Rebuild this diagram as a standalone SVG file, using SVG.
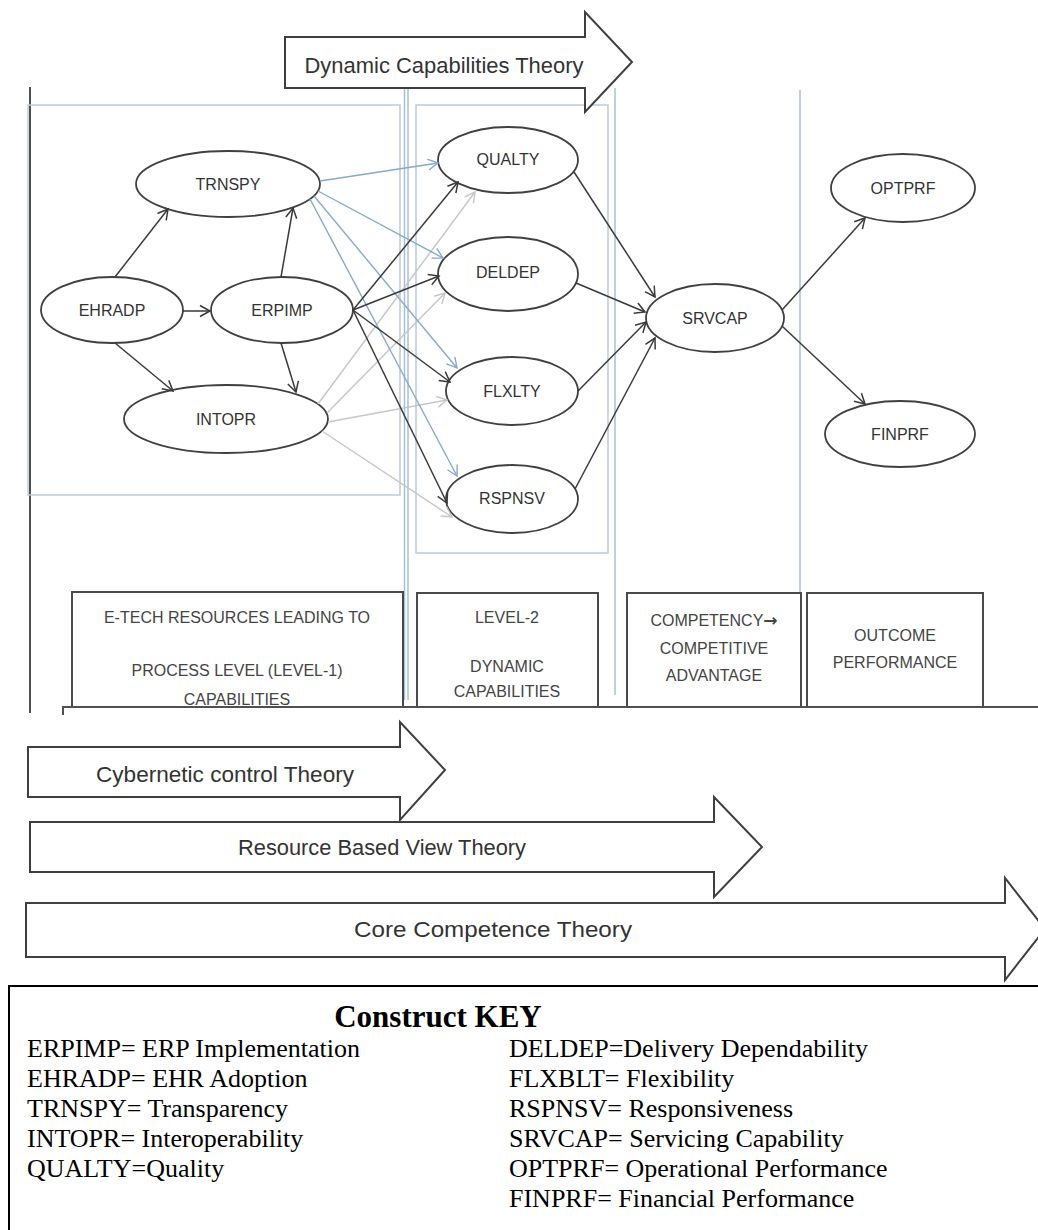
<svg xmlns="http://www.w3.org/2000/svg" width="1038" height="1230" viewBox="0 0 1038 1230">
  <style>
    .node ellipse { fill: #fff; stroke: #404040; stroke-width: 1.8; }
    .node text { font-family: "Liberation Sans", Arial, sans-serif; font-size: 16px; fill: #333; text-anchor: middle; }
    .c-dark { fill: none; stroke: #3a3a3a; stroke-width: 1.5; marker-end: url(#ah-dark); }
    .c-blue { fill: none; stroke: #86a9cc; stroke-width: 1.4; marker-end: url(#ah-blue); }
    .c-gray { fill: none; stroke: #c6c6c6; stroke-width: 1.4; marker-end: url(#ah-gray); }
    .guide { fill: none; stroke: #a9bfd6; stroke-width: 1.5; }
    .frame { fill: none; stroke: #bccad8; stroke-width: 1.5; }
    .axis { fill: none; stroke: #505050; stroke-width: 2; }
    .stage rect { fill: #fff; stroke: #4a4a4a; stroke-width: 2; }
    .stage text { font-family: "Liberation Sans", Arial, sans-serif; font-size: 16px; fill: #444; text-anchor: middle; }
    .stage .arrow { font-family: "DejaVu Sans", sans-serif; font-weight: bold; font-size: 17px; }
    .band polygon { fill: #fff; stroke: #3f3f3f; stroke-width: 2; stroke-linejoin: miter; }
    .band text { font-family: "Liberation Sans", Arial, sans-serif; font-size: 22px; fill: #333; text-anchor: middle; }
    .key rect { fill: #fff; stroke: #000; stroke-width: 2; }
    .key text { font-family: "Liberation Serif", "Times New Roman", serif; font-size: 26px; fill: #000; }
    .key .title { font-weight: bold; font-size: 31px; text-anchor: middle; }
  </style>
  <defs>
    <marker id="ah-dark" markerUnits="userSpaceOnUse" markerWidth="14" markerHeight="14" viewBox="-12 -7 14 14" refX="0" refY="0" orient="auto">
      <path d="M-10,-5.5 L0,0 L-10,5.5" fill="none" stroke="#3a3a3a" stroke-width="1.5"/>
    </marker>
    <marker id="ah-blue" markerUnits="userSpaceOnUse" markerWidth="14" markerHeight="14" viewBox="-12 -7 14 14" refX="0" refY="0" orient="auto">
      <path d="M-10,-5.5 L0,0 L-10,5.5" fill="none" stroke="#86a9cc" stroke-width="1.4"/>
    </marker>
    <marker id="ah-gray" markerUnits="userSpaceOnUse" markerWidth="14" markerHeight="14" viewBox="-12 -7 14 14" refX="0" refY="0" orient="auto">
      <path d="M-10,-5.5 L0,0 L-10,5.5" fill="none" stroke="#c6c6c6" stroke-width="1.4"/>
    </marker>
  </defs>

  <rect width="1038" height="1230" fill="#fff"/>

  <!-- column guides and grouping frames -->
  <g id="guides">
    <line class="axis" x1="30" y1="87" x2="30" y2="713"/>
    <rect class="frame" x="28" y="105" width="372" height="390"/>
    <rect class="frame" x="416" y="105" width="192" height="448"/>
    <line class="guide" x1="404.5" y1="88" x2="404.5" y2="700"/>
    <line class="guide" x1="408" y1="88" x2="408" y2="700"/>
    <line class="guide" x1="615" y1="88" x2="615" y2="695"/>
    <line class="guide" x1="800" y1="90" x2="800" y2="593"/>
  </g>

  <!-- top theory band -->
  <g id="band-dynamic" class="band">
    <polygon points="285,37 585,37 585,12 632,62 585,112 585,88 285,88"/>
    <text x="444" y="73" textLength="279" lengthAdjust="spacingAndGlyphs">Dynamic Capabilities Theory</text>
  </g>

  <!-- stage labels -->
  <g id="stage-1" class="stage">
    <rect x="72" y="592" width="331" height="115"/>
    <text x="237" y="623">E-TECH RESOURCES LEADING TO</text>
    <text x="237" y="676">PROCESS LEVEL (LEVEL-1)</text>
    <text x="237" y="705">CAPABILITIES</text>
  </g>
  <g id="stage-2" class="stage">
    <rect x="417" y="593" width="181" height="114"/>
    <text x="507" y="623">LEVEL-2</text>
    <text x="507" y="672">DYNAMIC</text>
    <text x="507" y="697">CAPABILITIES</text>
  </g>
  <g id="stage-3" class="stage">
    <rect x="627" y="593" width="174" height="114"/>
    <text x="714" y="626">COMPETENCY<tspan class="arrow">→</tspan></text>
    <text x="714" y="654">COMPETITIVE</text>
    <text x="714" y="681">ADVANTAGE</text>
  </g>
  <g id="stage-4" class="stage">
    <rect x="807" y="593" width="176" height="114"/>
    <text x="895" y="641">OUTCOME</text>
    <text x="895" y="668">PERFORMANCE</text>
  </g>
  <path class="axis" d="M63,715 V707 H1040"/>

  <!-- lower theory bands -->
  <g id="band-cybernetic" class="band">
    <polygon points="28,747 400,747 400,722 445,770 400,820 400,797 28,797"/>
    <text x="225" y="782" textLength="258" lengthAdjust="spacingAndGlyphs">Cybernetic control Theory</text>
  </g>
  <g id="band-rbv" class="band">
    <polygon points="30,822 714,822 714,797 762,847 714,897 714,872 30,872"/>
    <text x="382" y="855" textLength="288" lengthAdjust="spacingAndGlyphs">Resource Based View Theory</text>
  </g>
  <g id="band-core" class="band">
    <polygon points="26,903 1005,903 1005,878 1045,929 1005,980 1005,957 26,957"/>
    <text x="493" y="937" textLength="278" lengthAdjust="spacingAndGlyphs">Core Competence Theory</text>
  </g>

  <!-- construct nodes -->
  <g id="TRNSPY" class="node"><ellipse cx="228" cy="184" rx="92" ry="33"/><text x="228" y="190">TRNSPY</text></g>
  <g id="EHRADP" class="node"><ellipse cx="112" cy="310" rx="71" ry="33"/><text x="112" y="316">EHRADP</text></g>
  <g id="ERPIMP" class="node"><ellipse cx="282" cy="310" rx="71" ry="33"/><text x="282" y="316">ERPIMP</text></g>
  <g id="INTOPR" class="node"><ellipse cx="226" cy="419" rx="102" ry="34"/><text x="226" y="425">INTOPR</text></g>
  <g id="QUALTY" class="node"><ellipse cx="508" cy="160" rx="70" ry="33"/><text x="508" y="165">QUALTY</text></g>
  <g id="DELDEP" class="node"><ellipse cx="508" cy="274" rx="70" ry="37"/><text x="508" y="278">DELDEP</text></g>
  <g id="FLXLTY" class="node"><ellipse cx="512" cy="391" rx="66" ry="34"/><text x="512" y="397">FLXLTY</text></g>
  <g id="RSPNSV" class="node"><ellipse cx="512" cy="499" rx="66" ry="34"/><text x="512" y="504">RSPNSV</text></g>
  <g id="SRVCAP" class="node"><ellipse cx="715" cy="318" rx="69" ry="34"/><text x="715" y="324">SRVCAP</text></g>
  <g id="OPTPRF" class="node"><ellipse cx="903" cy="188" rx="72" ry="34"/><text x="903" y="194">OPTPRF</text></g>
  <g id="FINPRF" class="node"><ellipse cx="900" cy="434" rx="75" ry="33"/><text x="900" y="440">FINPRF</text></g>

  <!-- paths between constructs -->
  <g id="connectors">
    <path class="c-gray" d="M318,404 L475,192"/>
    <path class="c-gray" d="M327,413 L445,293"/>
    <path class="c-gray" d="M328,422 L447,400"/>
    <path class="c-gray" d="M322,431 L452,517"/>

    <path class="c-blue" d="M320,181 L438,163"/>
    <path class="c-blue" d="M318,191 L443,258"/>
    <path class="c-blue" d="M314,196 L457,368"/>
    <path class="c-blue" d="M310,199 L457,476"/>

    <path class="c-dark" d="M115,277 L168,209"/>
    <path class="c-dark" d="M281,277 L293,208"/>
    <path class="c-dark" d="M183,311 L210,311"/>
    <path class="c-dark" d="M115,343 L173,391"/>
    <path class="c-dark" d="M281,343 L296,392"/>

    <path class="c-dark" d="M353,310 L458,182"/>
    <path class="c-dark" d="M353,310 L439,276"/>
    <path class="c-dark" d="M353,310 L450,382"/>
    <path class="c-dark" d="M353,310 L447,503"/>

    <path class="c-dark" d="M574,172 L655,297"/>
    <path class="c-dark" d="M576,283 L645,312"/>
    <path class="c-dark" d="M578,391 L646,322"/>
    <path class="c-dark" d="M575,489 L655,338"/>

    <path class="c-dark" d="M782,310 L865,218"/>
    <path class="c-dark" d="M782,326 L865,404"/>
  </g>

  <!-- abbreviation key -->
  <g id="key" class="key">
    <rect x="9" y="986" width="1040" height="260"/>
    <text class="title" x="438" y="1027">Construct KEY</text>
    <text x="27" y="1057">ERPIMP= ERP Implementation</text>
    <text x="27" y="1087">EHRADP= EHR Adoption</text>
    <text x="27" y="1117">TRNSPY= Transparency</text>
    <text x="27" y="1147">INTOPR= Interoperability</text>
    <text x="27" y="1177">QUALTY=Quality</text>
    <text x="509" y="1057">DELDEP=Delivery Dependability</text>
    <text x="509" y="1087">FLXBLT= Flexibility</text>
    <text x="509" y="1117">RSPNSV= Responsiveness</text>
    <text x="509" y="1147">SRVCAP= Servicing Capability</text>
    <text x="509" y="1177">OPTPRF= Operational Performance</text>
    <text x="509" y="1207">FINPRF= Financial Performance</text>
  </g>
</svg>
